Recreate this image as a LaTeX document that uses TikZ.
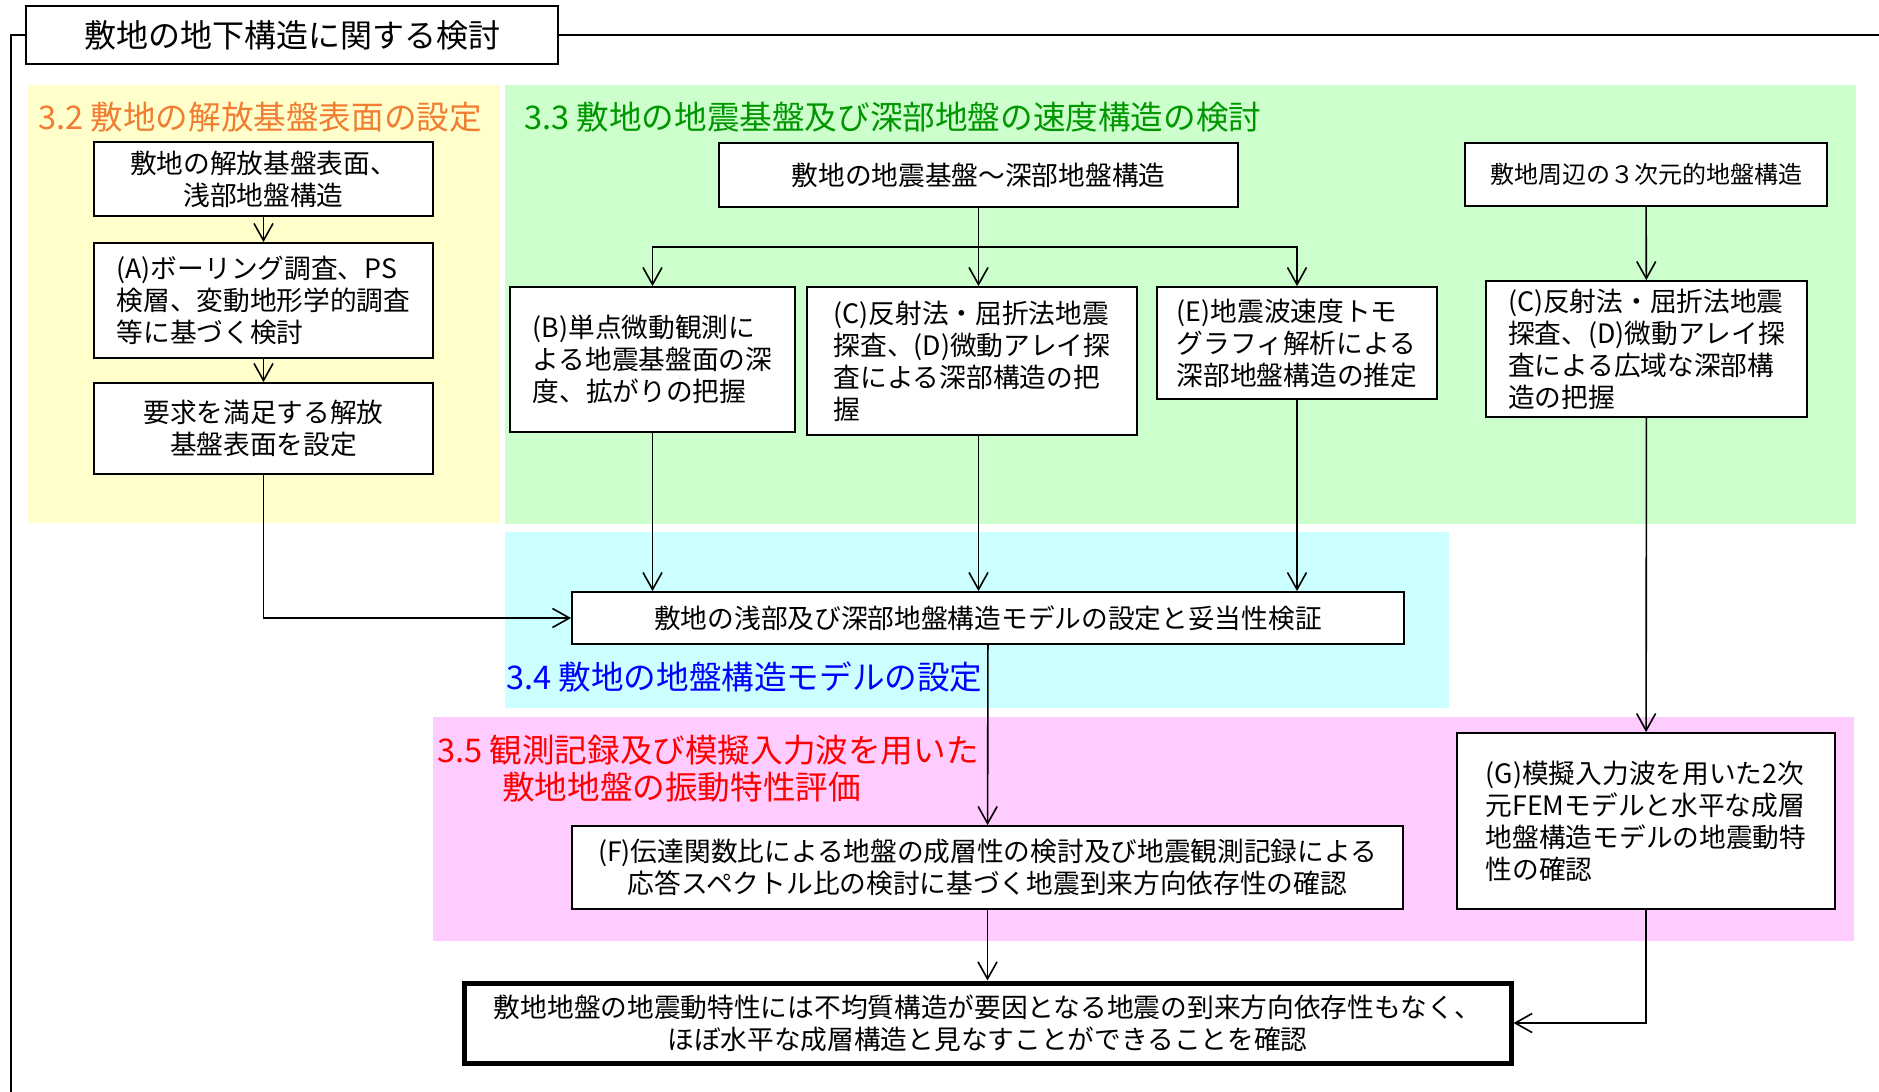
\documentclass[tikz,border=0pt]{standalone}
\usepackage{fontspec}
\setmainfont{Noto Sans CJK JP}
\usetikzlibrary{arrows.meta}
\definecolor{zoneyellow}{RGB}{255,255,204}
\definecolor{zonegreen}{RGB}{204,255,204}
\definecolor{zonecyan}{RGB}{204,255,255}
\definecolor{zonepink}{RGB}{255,204,255}
\definecolor{headorange}{RGB}{240,125,50}
\definecolor{headgreen}{RGB}{0,150,0}

\begin{document}
\begin{tikzpicture}[x=1pt, y=-1pt,
  box/.style={draw, line width=1.8pt, fill=white, inner sep=0pt, align=center, font=\fontsize{26.7}{32}\selectfont},
  lbox/.style={box, align=left},
  head/.style={anchor=west, inner sep=0pt, font=\fontsize{32.6}{38}\selectfont},
  arr/.style={line width=1.6pt, -{Straight Barb[length=17pt, width=19pt, line width=1.6pt]}}]
  \useasboundingbox (0,0) rectangle (1879,1092);
  % colour zones
  \fill[zoneyellow] (28,85) rectangle (500,523);
  \fill[zonegreen] (505,85) rectangle (1856,524);
  \fill[zonecyan] (505,532) rectangle (1449,708);
  \fill[zonepink] (433,717) rectangle (1854,941);
  % frame and title
  \node[box, minimum width=532pt, minimum height=58pt, font=\fontsize{32}{38}\selectfont] (title) at (292,35) {敷地の地下構造に関する検討};
  \draw[line width=1.8pt] (title.west) -- (11,35) -- (11,1092);
  \draw[line width=1.8pt] (title.east) -- (1879,35);
  % headings
  \node[head, text=headorange] (h32) at (38,117) {3.2 敷地の解放基盤表面の設定};
  \node[head, text=headgreen] (h33) at (524,117) {3.3 敷地の地震基盤及び深部地盤の速度構造の検討};
  \node[head, text=blue] (h34) at (506,677) {3.4 敷地の地盤構造モデルの設定};
  \node[head, text=red] (h35a) at (437,750) {3.5 観測記録及び模擬入力波を用いた};
  \node[head, text=red] (h35b) at (502,787) {敷地地盤の振動特性評価};
  % 3.2 boxes
  \node[box, minimum width=339pt, minimum height=74pt] (surf) at (263.5,179) {敷地の解放基盤表面、\\浅部地盤構造};
  \node[lbox, minimum width=339pt, minimum height=115pt] (boring) at (263.5,300.5) {(A)ボーリング調査、PS\\検層、変動地形学的調査\\等に基づく検討};
  \node[box, minimum width=339pt, minimum height=91pt] (setsurf) at (263.5,428.5) {要求を満足する解放\\基盤表面を設定};
  % 3.3 boxes
  \node[box, minimum width=519pt, minimum height=64pt] (deep) at (978.5,175) {敷地の地震基盤～深部地盤構造};
  \node[box, minimum width=362pt, minimum height=63pt, font=\fontsize{24}{30}\selectfont] (around) at (1646,174.5) {敷地周辺の３次元的地盤構造};
  \node[lbox, minimum width=285pt, minimum height=145pt] (micro) at (652.5,359.5) {(B)単点微動観測に\\よる地震基盤面の深\\度、拡がりの把握};
  \node[lbox, minimum width=330pt, minimum height=148pt] (refl) at (972,361) {(C)反射法・屈折法地震\\探査、(D)微動アレイ探\\査による深部構造の把\\握};
  \node[lbox, minimum width=280pt, minimum height=112pt] (tomo) at (1297,343) {(E)地震波速度トモ\\グラフィ解析による\\深部地盤構造の推定};
  \node[lbox, minimum width=321pt, minimum height=136pt] (wide) at (1646.5,349) {(C)反射法・屈折法地震\\探査、(D)微動アレイ探\\査による広域な深部構\\造の把握};
  % 3.4 / 3.5 boxes
  \node[box, minimum width=832pt, minimum height=52pt] (model) at (988,618) {敷地の浅部及び深部地盤構造モデルの設定と妥当性検証};
  \node[box, minimum width=831pt, minimum height=83pt] (transfer) at (987.5,867.5) {(F)伝達関数比による地盤の成層性の検討及び地震観測記録による\\応答スペクトル比の検討に基づく地震到来方向依存性の確認};
  \node[lbox, minimum width=378pt, minimum height=176pt] (fem) at (1646,821) {(G)模擬入力波を用いた2次\\元FEMモデルと水平な成層\\地盤構造モデルの地震動特\\性の確認};
  \node[box, line width=5pt, minimum width=1047pt, minimum height=80pt] (result) at (987.5,1023) {敷地地盤の地震動特性には不均質構造が要因となる地震の到来方向依存性もなく、\\ほぼ水平な成層構造と見なすことができることを確認};
  % connectors
  \coordinate (split) at (978.5,247);
  \draw[arr] (surf) -- (boring);
  \draw[arr] (boring) -- (setsurf);
  \draw[arr] (setsurf.south) |- (model.west);
  \draw[arr] (deep.south) -- (deep.south |- refl.north);
  \draw[arr] (split) -| (micro.north);
  \draw[arr] (split) -| (tomo.north);
  \draw[arr] (around) -- (wide);
  \draw[arr] (micro.south) -- (micro.south |- model.north);
  \draw[arr] (refl.south -| deep.south) -- (deep.south |- model.north);
  \draw[arr] (tomo.south) -- (tomo.south |- model.north);
  \draw[arr] (wide) -- (fem);
  \draw[arr] (model) -- (transfer);
  \draw[arr] (transfer) -- (result);
  \draw[arr] (fem.south) |- (result.east);
\end{tikzpicture}
\end{document}
